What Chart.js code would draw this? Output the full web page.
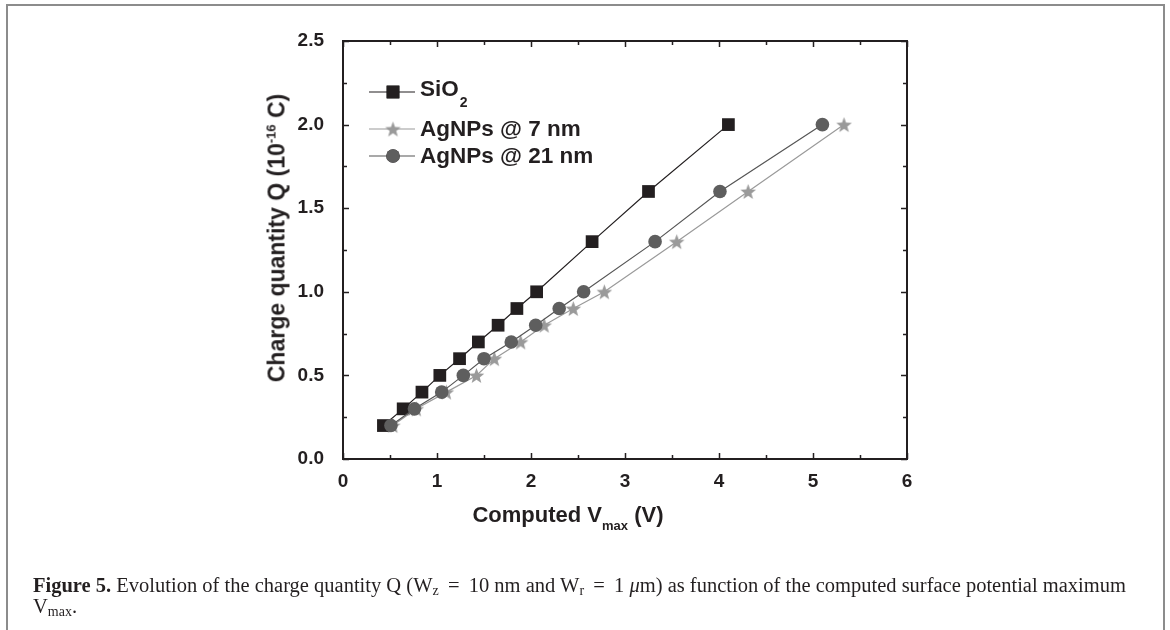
<!DOCTYPE html>
<html>
<head>
<meta charset="utf-8">
<script src="https://cdn.jsdelivr.net/npm/chart.js@4"></script>
<style>
  html,body{margin:0;padding:0;background:#fff;}
  #wrap{position:relative;width:1170px;height:630px;overflow:hidden;background:#fff;}
  #frame{position:absolute;left:6px;top:4px;width:1159px;height:640px;border:2px solid #8c8c8c;box-sizing:border-box;}
  canvas{position:absolute;left:0;top:0;}
  .ttl{position:absolute;font-family:"Liberation Sans",Arial,sans-serif;font-weight:bold;color:#231f20;white-space:nowrap;}
  #ytitle{font-size:23px;left:277px;top:238px;transform:translate(-50%,-50%) rotate(-90deg);}
  #ytitle sup{font-size:13px;vertical-align:9px;}
  #xtitle{font-size:22px;left:568px;top:517px;transform:translate(-50%,-50%);}
  #xtitle sub{font-size:13px;vertical-align:-8px;}
  #caption{position:absolute;left:33px;top:575px;font-family:"Liberation Serif","Times New Roman",serif;font-size:20.5px;line-height:21px;color:#231f20;white-space:nowrap;}
  #caption sub{font-size:14px;vertical-align:-3px;line-height:0;}
</style>
</head>
<body>
<div id="wrap">
  <div id="frame"></div>
  <canvas id="c" width="1170" height="630"></canvas>
  <div id="ytitle" class="ttl">Charge quantity Q (10<sup>-16</sup> C)</div>
  <div id="xtitle" class="ttl">Computed V<sub>max</sub> (V)</div>
  <div id="caption"><b>Figure 5.</b> Evolution of the charge quantity Q (W<sub>z</sub> &#8201;=&#8201; 10 nm and W<sub>r</sub> &#8201;=&#8201; 1 <i>μ</i>m) as function of the computed surface potential maximum<br>V<sub>max</sub>.</div>
</div>
<script>
// ---- data ----
const chargeQ   = [0.2,0.3,0.4,0.5,0.6,0.7,0.8,0.9,1.0,1.3,1.6,2.0];
const vmaxSiO2  = [0.43,0.64,0.84,1.03,1.24,1.44,1.65,1.85,2.06,2.65,3.25,4.10];
const vmaxAg7   = [0.53,0.78,1.10,1.42,1.61,1.89,2.14,2.45,2.78,3.55,4.31,5.33];
const vmaxAg21  = [0.51,0.76,1.05,1.28,1.50,1.79,2.05,2.30,2.56,3.32,4.01,5.10];
const seriesNames = ["SiO2","AgNPs @ 7 nm","AgNPs @ 21 nm"];
const xTicks = [0,1,2,3,4,5,6];
const yTicks = [0.0,0.5,1.0,1.5,2.0,2.5];

function pts(xs, ys){ return xs.map((x,i)=>({x:x,y:ys[i]})); }

// filled five-point star image for point style
function makeStar(color, R){
  const s = Math.ceil(R*2+2);
  const cv = document.createElement('canvas');
  cv.width = s; cv.height = s;
  const g = cv.getContext('2d');
  const cx = s/2, cy = s/2 + R*0.1, r = R*0.42;
  g.beginPath();
  for(let i=0;i<10;i++){
    const a = -Math.PI/2 + i*Math.PI/5;
    const rr = (i%2===0)?R:r;
    const px = cx + rr*Math.cos(a), py = cy + rr*Math.sin(a);
    if(i===0) g.moveTo(px,py); else g.lineTo(px,py);
  }
  g.closePath();
  g.fillStyle = color; g.fill();
  return cv;
}
const starImg = makeStar('#9a9a9a', 8.2);

const ink = '#231f20';
const FONT = '"Liberation Sans", Arial, sans-serif';

const framePlugin = {
  id:'frameTicks',
  afterDraw(chart){
    const ctx = chart.ctx, a = chart.chartArea;
    const xs = chart.scales.x, ys = chart.scales.y;
    ctx.save();
    ctx.strokeStyle = ink;
    ctx.lineWidth = 2;
    ctx.strokeRect(a.left, a.top, a.right-a.left, a.bottom-a.top);
    ctx.lineWidth = 1.5;
    ctx.beginPath();
    for(let v=0; v<=6.0001; v+=0.5){
      const px = Math.round(xs.getPixelForValue(v))+0.5;
      const L = (Math.abs(v-Math.round(v))<1e-6)?6:4;
      ctx.moveTo(px,a.bottom); ctx.lineTo(px,a.bottom-L);
      ctx.moveTo(px,a.top); ctx.lineTo(px,a.top+L);
    }
    for(let v=0; v<=2.5001; v+=0.25){
      const py = Math.round(ys.getPixelForValue(v))+0.5;
      const L = (Math.abs(v*2-Math.round(v*2))<1e-6)?6:4;
      ctx.moveTo(a.left,py); ctx.lineTo(a.left+L,py);
      ctx.moveTo(a.right,py); ctx.lineTo(a.right-L,py);
    }
    ctx.stroke();

    // legend
    const rows = [{ds:0,y:92},{ds:1,y:129},{ds:2,y:156}];
    const big = 'bold 22.5px ' + FONT;
    ctx.font = big;
    ctx.textBaseline = 'middle';
    rows.forEach(r=>{
      const d = chart.data.datasets[r.ds];
      ctx.strokeStyle = d.borderColor; ctx.lineWidth = 1.2;
      ctx.beginPath(); ctx.moveTo(369, r.y); ctx.lineTo(415, r.y); ctx.stroke();
      Chart.helpers.drawPoint(ctx, {pointStyle:d.pointStyle, radius:d.pointRadius, borderWidth:0, rotation:0}, 393, r.y);
      if(d.pointStyle !== starImg){
        ctx.fillStyle = d.backgroundColor;
        ctx.fill();
      }
      ctx.fillStyle = ink;
      const name = seriesNames[r.ds];
      if(name === 'SiO2'){
        ctx.fillText('SiO', 420, r.y-2);
        const w = ctx.measureText('SiO').width;
        ctx.font = 'bold 14px ' + FONT;
        ctx.fillText('2', 420+w+1, r.y+11);
        ctx.font = big;
      } else {
        ctx.fillText(name, 420, r.y+1);
      }
    });
    ctx.restore();
  }
};

new Chart(document.getElementById('c'), {
  type:'scatter',
  data:{
    datasets:[
      {label:seriesNames[0], data:pts(vmaxSiO2,chargeQ), showLine:true, borderColor:ink, borderWidth:1.2,
       backgroundColor:ink, pointStyle:'rect', pointRadius:9, pointBorderWidth:0, pointBackgroundColor:ink, order:2},
      {label:seriesNames[1], data:pts(vmaxAg7,chargeQ), showLine:true, borderColor:'#9a9a9a', borderWidth:1.2,
       backgroundColor:'#9a9a9a', pointStyle:starImg, pointRadius:8, pointBorderWidth:0, order:1},
      {label:seriesNames[2], data:pts(vmaxAg21,chargeQ), showLine:true, borderColor:'#555555', borderWidth:1.2,
       backgroundColor:'#5e5e5e', pointStyle:'circle', pointRadius:6.8, pointBorderWidth:0, pointBackgroundColor:'#5e5e5e', order:0}
    ]
  },
  options:{
    responsive:false, animation:false,
    layout:{padding:{left:0, top:41, right:263, bottom:0}},
    plugins:{legend:{display:false}, tooltip:{enabled:false}},
    scales:{
      x:{type:'linear', min:0, max:6,
         afterBuildTicks(s){ s.ticks = xTicks.map(v=>({value:v})); },
         afterFit(s){ s.height = 171; },
         grid:{display:false}, border:{display:false},
         ticks:{padding:3, color:ink, font:{family:FONT, size:19, weight:'bold'},
                callback:v=>String(v), maxRotation:0, autoSkip:false}},
      y:{type:'linear', min:0, max:2.5,
         afterBuildTicks(s){ s.ticks = yTicks.map(v=>({value:v})); },
         afterFit(s){ s.width = 343; },
         grid:{display:false}, border:{display:false},
         ticks:{padding:11, color:ink, font:{family:FONT, size:19, weight:'bold'},
                callback:v=>Number(v).toFixed(1), autoSkip:false}}
    }
  },
  plugins:[framePlugin]
});
</script>
</body>
</html>
